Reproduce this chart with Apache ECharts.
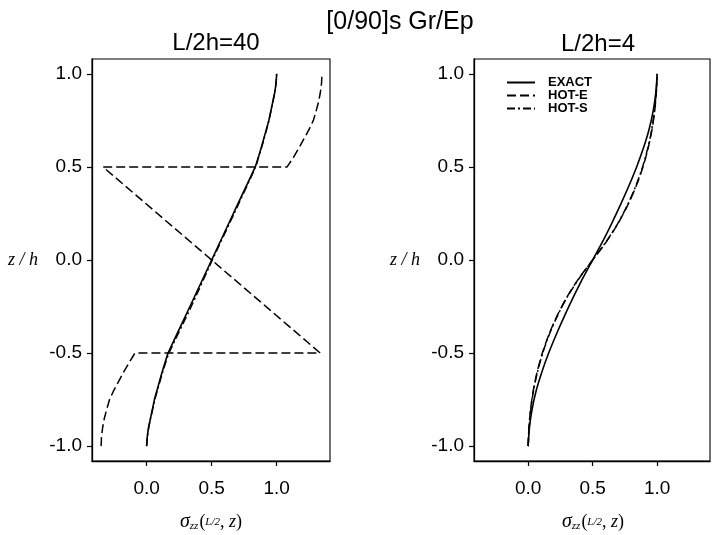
<!DOCTYPE html>
<html>
<head>
<meta charset="utf-8">
<script src="https://cdn.jsdelivr.net/npm/echarts@6/dist/echarts.min.js"></script>
<style>
html,body{margin:0;padding:0;background:#fff;}
#chart{width:717px;height:535px;}
</style>
</head>
<body>
<div id="chart"></div>
<script>
// ---------- data ----------
const mainTitle = "[0/90]s Gr/Ep";
const panelTitles = ["L/2h=40", "L/2h=4"];
const seriesNames = ["EXACT", "HOT-E", "HOT-S"];
const xTicks = [0, 0.5, 1.0];
const yTicks = [-1.0, -0.5, 0.0, 0.5, 1.0];

// Left panel (L/2h=40)
const leftExactZ = [-1,-0.95,-0.9,-0.85,-0.8,-0.75,-0.7,-0.65,-0.6,-0.55,-0.5,-0.25,0,0.25,0.5,0.55,0.6,0.65,0.7,0.75,0.8,0.85,0.9,0.95,1];
const leftExactX = [0,0.005,0.015,0.03,0.045,0.06,0.08,0.1,0.12,0.142,0.165,0.333,0.5,0.667,0.835,0.858,0.88,0.9,0.92,0.94,0.955,0.97,0.985,0.995,1.0];
const leftHotSZ = [-1,-0.95,-0.9,-0.85,-0.8,-0.75,-0.7,-0.65,-0.6,-0.55,-0.5,-0.25,0,0.25,0.5,0.55,0.6,0.65,0.7,0.75,0.8,0.85,0.9,0.95,1];
const leftHotSX = [0,0.006,0.016,0.031,0.047,0.063,0.083,0.103,0.124,0.147,0.172,0.343,0.505,0.673,0.838,0.86,0.882,0.902,0.922,0.94,0.956,0.971,0.985,0.995,1.0];
const leftHotEZ = [-1,-0.95,-0.9,-0.85,-0.8,-0.75,-0.7,-0.65,-0.61,-0.55,-0.5,-0.5,0.5,0.5,0.55,0.61,0.65,0.7,0.75,0.8,0.85,0.9,0.95,1];
const leftHotEX = [-0.35,-0.347,-0.338,-0.325,-0.306,-0.285,-0.252,-0.213,-0.183,-0.133,-0.09,1.335,-0.335,1.08,1.128,1.178,1.208,1.248,1.282,1.303,1.322,1.336,1.345,1.348];

// Right panel (L/2h=4)
const rightZ = [-1,-0.9,-0.8,-0.7,-0.6,-0.5,-0.4,-0.3,-0.2,-0.1,0,0.1,0.2,0.3,0.4,0.5,0.6,0.7,0.8,0.9,1];
const rightExactX = [0,0.01,0.031,0.063,0.107,0.159,0.218,0.282,0.35,0.422,0.5,0.578,0.65,0.718,0.782,0.841,0.893,0.937,0.969,0.99,1.0];
const rightHotEX  = [0,0.006,0.019,0.04,0.07,0.11,0.161,0.224,0.3,0.392,0.5,0.608,0.7,0.776,0.839,0.89,0.93,0.96,0.981,0.994,1.0];
const rightHotSX  = [0,0.007,0.021,0.042,0.073,0.113,0.164,0.227,0.302,0.394,0.5,0.606,0.698,0.773,0.836,0.887,0.927,0.958,0.979,0.993,1.0];

// ---------- build ----------
function pairs(xs, zs){ return xs.map((x,i)=>[x, zs[i]]); }
const FONT = "'Liberation Sans', Arial, sans-serif";
const SERIF = "'Liberation Serif', 'DejaVu Serif', serif";

const styles = {
  "EXACT": {type:'solid', width:1.6},
  "HOT-E": {type:[9,4], width:1.5},
  "HOT-S": {type:[8,3,2,3], width:1.5}
};

function mkSeries(name, data, idx, smooth){
  return {
    name: name, type:'line', xAxisIndex: idx, yAxisIndex: idx,
    data: data, showSymbol:false, symbol:'none', smooth: smooth || false,
    lineStyle: Object.assign({color:'#000'}, styles[name]),
    itemStyle: {color:'#000'},
    animation:false, z: name==='EXACT'?3:2
  };
}

const grids = [
  {left:92, top:59, width:238, height:402},
  {left:474, top:59, width:236, height:402}
];

function xAxis(i){
  return {
    type:'value', gridIndex:i, min:-0.42, max:1.41,
    splitLine:{show:false},
    axisLine:{show:true, onZero:false, lineStyle:{color:'#000', width:1.3}},
    axisTick:{show:true, length:5, customValues: xTicks, lineStyle:{color:'#000', width:1.2}},
    axisLabel:{show:true, customValues: xTicks, margin:18, color:'#000', fontSize:19, fontFamily:FONT,
      formatter: v => v.toFixed(1)}
  };
}
function yAxis(i){
  return {
    type:'value', gridIndex:i, min:-1.08, max:1.08,
    splitLine:{show:false},
    axisLine:{show:true, onZero:false, lineStyle:{color:'#000', width:1.3}},
    axisTick:{show:true, length:5, customValues: yTicks, lineStyle:{color:'#000', width:1.2}},
    axisLabel:{show:true, customValues: yTicks, margin:10, color:'#000', fontSize:19, fontFamily:FONT,
      formatter: v => v.toFixed(1)}
  };
}

const xNameRich = {
  s:{fontFamily:SERIF, fontStyle:'italic', fontSize:20, color:'#000'},
  sub:{fontFamily:SERIF, fontStyle:'italic', fontSize:11, color:'#000', padding:[9,1,0,0]},
  p:{fontFamily:SERIF, fontSize:18, color:'#000'},
  f:{fontFamily:SERIF, fontStyle:'italic', fontSize:11, color:'#000'},
  z:{fontFamily:SERIF, fontStyle:'italic', fontSize:18, color:'#000'}
};
const xNameText = '{s|σ}{sub|zz}{p|(}{f|L/2}{p|,}{z| z}{p|)}';

const chart = echarts.init(document.getElementById('chart'), null, {renderer:'canvas'});
chart.setOption({
  backgroundColor:'#fff',
  animation:false,
  title:[
    {text: mainTitle, left: 395, top: 5, textAlign:'center',
      textStyle:{fontFamily:FONT, fontSize:25, fontWeight:'normal', color:'#000'}},
    {text: panelTitles[0], left: 211, top: 26, textAlign:'center',
      textStyle:{fontFamily:FONT, fontSize:24, fontWeight:'normal', color:'#000'}},
    {text: panelTitles[1], left: 593, top: 27, textAlign:'center',
      textStyle:{fontFamily:FONT, fontSize:24, fontWeight:'normal', color:'#000'}}
  ],
  grid: grids.map(g => Object.assign({show:true, borderColor:'#000', borderWidth:1.1, backgroundColor:'transparent'}, g)),
  xAxis:[xAxis(0), xAxis(1)],
  yAxis:[yAxis(0), yAxis(1)],
  legend:{
    data: seriesNames, orient:'vertical', left:506, top:76, padding:0,
    itemWidth:28, itemHeight:11, itemGap:0,
    itemStyle:{opacity:0, borderWidth:0},
    textStyle:{fontFamily:FONT, fontSize:13, fontWeight:'bold', color:'#000', lineHeight:11, padding:[0,0,0,8]},
    selectedMode:false
  },
  graphic:[
    {type:'text', left:8, top:251, style:{text:'z / h', font:"italic 18px 'Liberation Serif', serif", fill:'#000'}},
    {type:'text', left:390, top:251, style:{text:'z / h', font:"italic 18px 'Liberation Serif', serif", fill:'#000'}},
    {type:'text', x:211, y:522, style:{text:xNameText, rich:xNameRich, align:'center', verticalAlign:'middle'}},
    {type:'text', x:593, y:522, style:{text:xNameText, rich:xNameRich, align:'center', verticalAlign:'middle'}}
  ],
  series:[
    mkSeries('EXACT', pairs(leftExactX, leftExactZ), 0, 0.2),
    mkSeries('HOT-E', pairs(leftHotEX, leftHotEZ), 0, false),
    mkSeries('HOT-S', pairs(leftHotSX, leftHotSZ), 0, 0.2),
    mkSeries('EXACT', pairs(rightExactX, rightZ), 1, 0.3),
    mkSeries('HOT-E', pairs(rightHotEX, rightZ), 1, 0.3),
    mkSeries('HOT-S', pairs(rightHotSX, rightZ), 1, 0.3)
  ]
});
</script>
</body>
</html>
